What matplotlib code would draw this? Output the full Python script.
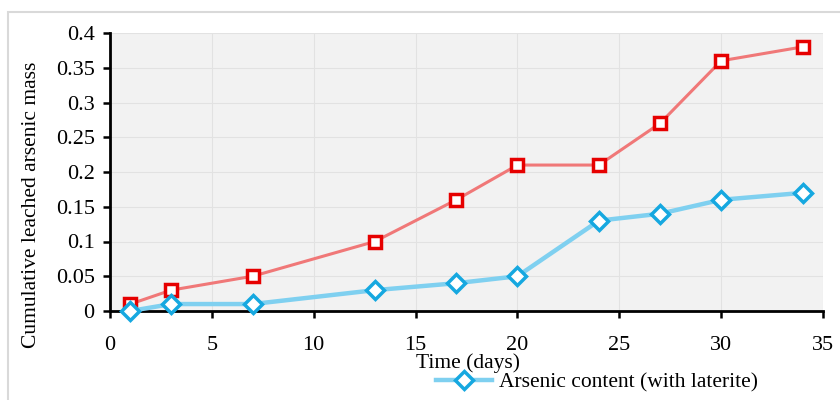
import matplotlib
matplotlib.use("Agg")
import matplotlib.pyplot as plt
from matplotlib.patches import Rectangle

days = [1, 3, 7, 13, 17, 20, 24, 27, 30, 34]
without_laterite = [0.01, 0.03, 0.05, 0.10, 0.16, 0.21, 0.21, 0.27, 0.36, 0.38]
with_laterite = [0.0, 0.01, 0.01, 0.03, 0.04, 0.05, 0.13, 0.14, 0.16, 0.17]
xticks = [0, 5, 10, 15, 20, 25, 30, 35]
yticks = [0, 0.05, 0.1, 0.15, 0.2, 0.25, 0.3, 0.35, 0.4]
yticklabels = ["0", "0.05", "0.1", "0.15", "0.2", "0.25", "0.3", "0.35", "0.4"]

plt.rcParams['font.family'] = ['Liberation Serif', 'DejaVu Serif']

fig = plt.figure(figsize=(8.4, 4.0), dpi=100)
fig.patches.append(Rectangle((8/840, -0.1), 1.2, 1.1 - 12/400, transform=fig.transFigure,
                             fill=False, edgecolor='#d9d9d9', linewidth=1.5, zorder=0))
ax = fig.add_axes([110/840, 1 - 311/400, (823 - 110)/840, (311 - 33)/400])
ax.set_facecolor('#f2f2f2')

ax.plot(days, without_laterite, color='#f07878', linewidth=2.2, marker='s', markersize=9,
        markerfacecolor='white', markeredgecolor='#e60000', markeredgewidth=2.5,
        label='Arsenic content (without laterite)', clip_on=False, zorder=3)
l2, = ax.plot(days, with_laterite, color='#7fd0f0', linewidth=3.2, marker='D', markersize=9,
        markerfacecolor='white', markeredgecolor='#16a8e0', markeredgewidth=2.5,
        label='Arsenic content (with laterite)', clip_on=False, zorder=3)

ax.set_xlim(0, 35)
ax.set_ylim(0, 0.4)
ax.set_xticks(xticks)
ax.set_yticks(yticks)
ax.set_yticklabels(yticklabels)
ax.grid(True, color='#e2e2e2', linewidth=0.8)
ax.set_axisbelow(True)
for s in ['top', 'right']:
    ax.spines[s].set_visible(False)
for s in ['left', 'bottom']:
    ax.spines[s].set_linewidth(2)
    ax.spines[s].set_color('black')
ax.tick_params(axis='both', direction='out', length=5, width=1.8, labelsize=16, colors='black')
ax.tick_params(axis='x', pad=13)
ax.tick_params(axis='y', pad=6)

fig.text(468/840, 1 - 363/400, 'Time (days)', fontsize=15.5, ha='center', va='center')
fig.text(32/840, 1 - 205/400, 'Cumulative leached arsenic mass', fontsize=15.5,
         rotation=90, ha='center', va='center')

fig.legend(handles=[l2], loc='center', bbox_to_anchor=(597/840, 1 - 382/400), frameon=False,
           fontsize=15.5, handlelength=2.6, handletextpad=0.3, borderpad=0)

fig.savefig('out.png', dpi=100)
